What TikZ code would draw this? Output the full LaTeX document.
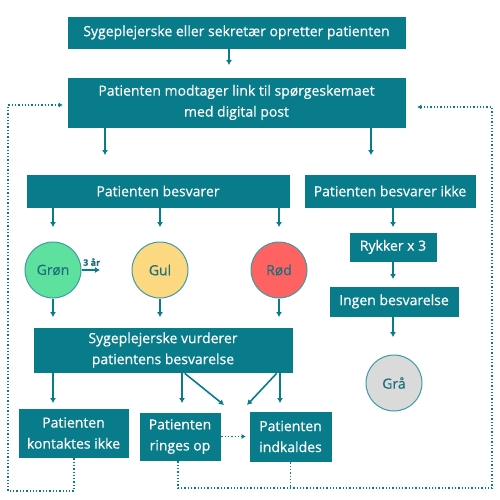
\documentclass[tikz,border=0pt]{standalone}
\usepackage{fontspec}
\setmainfont{Open Sans}[FakeBold=0.4]
\usetikzlibrary{arrows.meta,calc}
\definecolor{teal}{HTML}{097C8B}
\definecolor{tealtxt}{HTML}{1B6F7E}
\definecolor{cgreen}{HTML}{5EE09E}
\definecolor{cyellow}{HTML}{FCD880}
\definecolor{cred}{HTML}{FE6361}
\definecolor{cgray}{HTML}{DADADA}
\definecolor{cline}{HTML}{3E9BA6}
\tikzset{
  box/.style={rectangle, fill=teal, text=white, inner sep=0pt, align=center,
    font=\fontsize{14}{21}\selectfont, draw=white, line width=0.6pt},
  circ/.style={circle, draw=cline, line width=1pt, inner sep=0pt,
    minimum size=56pt, text=tealtxt, font=\fontsize{14}{15}\selectfont},
  arr/.style={draw=teal, line width=1.6pt, -{Latex[length=5pt,width=6pt]}},
  dotarr/.style={draw=teal, line width=1.3pt, dotted, -{Latex[length=4pt,width=5pt]}},
  dotline/.style={draw=teal, line width=1.3pt, dotted},
}
\begin{document}
\begin{tikzpicture}[x=1pt,y=-1pt]
\useasboundingbox (0,0) rectangle (500,500);
% boxes
\node[box, minimum width=339pt, minimum height=33pt] (top) at (236.5,32.5) {Sygeplejerske eller sekretær opretter patienten};
\node[box, minimum width=339pt, minimum height=51pt] (link) at (236.5,102.5) {Patienten modtager link til spørgeskemaet\\med digital post};
\node[box, minimum width=264pt, minimum height=34pt] (besv) at (158,191) {Patienten besvarer};
\node[box, minimum width=172pt, minimum height=34pt] (ikke) at (390,191) {Patienten besvarer ikke};
\node[circ, fill=cgreen] (gron) at (53,270) {Grøn};
\node[circ, fill=cyellow] (gul) at (160,270) {Gul};
\node[circ, fill=cred] (rod) at (279,270) {Rød};
\node[box, minimum width=88pt, minimum height=30pt] (rykker) at (393,247) {Rykker x 3};
\node[box, minimum width=130pt, minimum height=31pt] (ingen) at (394,301.5) {Ingen besvarelse};
\node[box, minimum width=260pt, minimum height=46pt] (vurd) at (163,350) {Sygeplejerske vurderer\\patientens besvarelse};
\node[circ, fill=cgray] (gra) at (394,383) {Grå};
\node[box, minimum width=111pt, minimum height=50pt] (kont) at (73.5,433) {Patienten\\kontaktes ikke};
\node[box, minimum width=82pt, minimum height=49pt] (ring) at (180,436.5) {Patienten\\ringes op};
\node[box, minimum width=83pt, minimum height=51pt] (indk) at (290.5,436.5) {Patienten\\indkaldes};
% arrow end points
\coordinate (e0) at (229,65);
\coordinate (e1) at (105,155);
\coordinate (e2) at (371,155);
\coordinate (g1) at (53,227);
\coordinate (g2) at (160,227);
\coordinate (g3) at (279,227);
\coordinate (h1) at (53,317);
\coordinate (h2) at (160,317);
\coordinate (h3) at (279,317);
\coordinate (r1) at (393,227);
\coordinate (r2) at (393,279);
\coordinate (r3) at (393,337);
\coordinate (v1) at (53,403);
\coordinate (v2) at (182,403);
\coordinate (v3) at (224,405);
\coordinate (v4) at (247,405);
\coordinate (v5) at (280,403);
\coordinate (yr) at (100,270);
\draw[arr] (top.south -| e0) -- (e0);
\draw[arr] (link.south -| e1) -- (e1);
\draw[arr] (link.south -| e2) -- (e2);
\draw[arr] (besv.south -| g1) -- (g1);
\draw[arr] (besv.south -| g2) -- (g2);
\draw[arr] (besv.south -| g3) -- (g3);
\draw[arr] (gron.south) -- (h1);
\draw[arr] (gul.south) -- (h2);
\draw[arr] (rod.south) -- (h3);
\draw[arr] (gron.east) -- (yr) node[pos=0.55, above=0pt, text=tealtxt, font=\fontsize{9}{10}\selectfont\bfseries] (tre) {3 år};
\draw[arr] (ikke.south -| r1) -- (r1);
\draw[arr] (rykker.south -| r2) -- (r2);
\draw[arr] (ingen.south -| r3) -- (r3);
\draw[arr] (vurd.south -| v1) -- (v1);
\draw[arr] (vurd.south -| v2) -- (v2);
\draw[arr] ($(vurd.south west)+(152,0)$) -- (v3);
\draw[arr] ($(vurd.south west)+(244,0)$) -- (v4);
\draw[arr] (vurd.south -| v5) -- (v5);
% dotted loops
\coordinate (lk) at (74,491);
\coordinate (ll) at (8,491);
\coordinate (lu) at (8,105);
\coordinate (rr) at (178,488);
\coordinate (rc) at (492,488);
\coordinate (ru) at (492,107);
\draw[dotarr] (kont.south -| lk) -- (lk) -- (ll) -- (lu) -- ($(lu -| link.west)+(-4,0)$);
\draw[dotarr] (ring.south -| rr) -- (rr) -- (rc) -- (ru) -- ($(ru -| link.east)+(11,0)$);
\draw[dotline] (indk.south) -- (indk.south |- rr);
\draw[dotarr] (ring.east) -- ($(indk.west)+(-3,0)$);
\end{tikzpicture}
\end{document}
